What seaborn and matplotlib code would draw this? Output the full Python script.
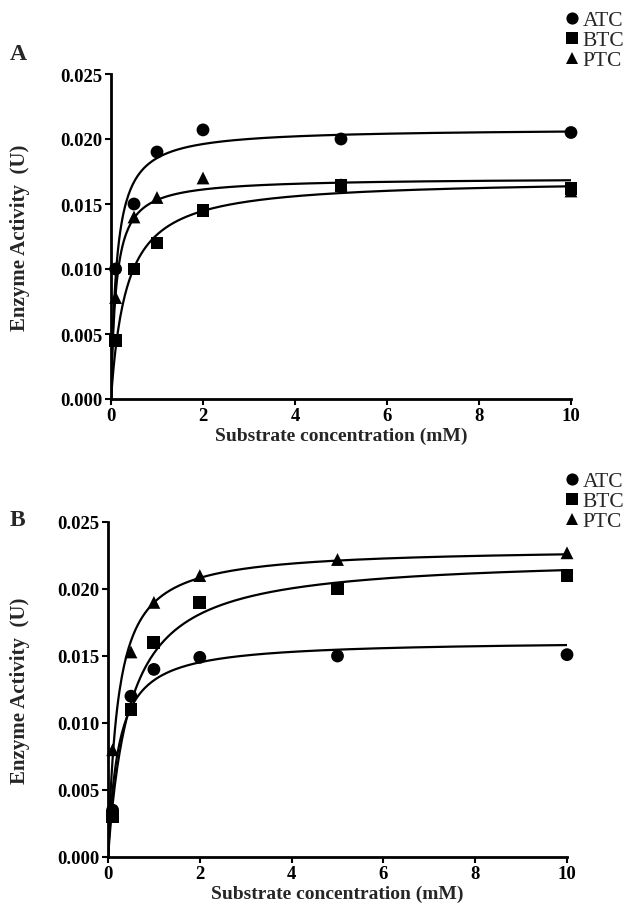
import numpy as np
import pandas as pd
import matplotlib
matplotlib.use("Agg")
import matplotlib.pyplot as plt
import seaborn as sns

sns.set_theme(style="ticks")
plt.rcParams["font.family"] = ["Liberation Serif", "DejaVu Serif"]

# ---- data ----
conc = [0.1, 0.5, 1, 2, 5, 10]
substrates = ["ATC", "BTC", "PTC"]

a_atc = [0.0100, 0.0150, 0.0190, 0.0207, 0.0200, 0.0205]
a_btc = [0.0045, 0.0100, 0.0120, 0.0145, 0.0164, 0.0162]
a_ptc = [0.0078, 0.0140, 0.0155, 0.0170, 0.0165, 0.0160]

b_atc = [0.0035, 0.0120, 0.0140, 0.0149, 0.0150, 0.0151]
b_btc = [0.0030, 0.0110, 0.0160, 0.0190, 0.0200, 0.0210]
b_ptc = [0.0080, 0.0153, 0.0190, 0.0210, 0.0222, 0.0227]

x_ticks = [0, 2, 4, 6, 8, 10]
y_ticks = [0.000, 0.005, 0.010, 0.015, 0.020, 0.025]
panel_labels = ["A", "B"]


def mm_fit(x, y):
    """Least-squares Michaelis-Menten fit (Vmax closed form, Km by grid)."""
    x = np.asarray(x, float)
    y = np.asarray(y, float)
    best = None
    for km in np.linspace(0.005, 3.0, 6000):
        f = x / (km + x)
        vmax = (y * f).sum() / (f * f).sum()
        sse = ((y - vmax * f) ** 2).sum()
        if best is None or sse < best[0]:
            best = (sse, vmax, km)
    return best[1], best[2]


def build(series):
    pts, curves = [], []
    xs = np.linspace(0, 10, 400)
    for name, vals in zip(substrates, series):
        vmax, km = mm_fit(conc, vals)
        pts.append(pd.DataFrame({"x": conc, "y": vals, "Substrate": name}))
        curves.append(pd.DataFrame({"x": xs, "y": vmax * xs / (km + xs), "Substrate": name}))
    return pd.concat(pts), pd.concat(curves)


panels = [build([a_atc, a_btc, a_ptc]), build([b_atc, b_btc, b_ptc])]

fig = plt.figure(figsize=(6.3, 9.12), dpi=100)
axes_pos = [
    [111 / 630, 1 - 400 / 912, 460 / 630, 325 / 912],
    [108 / 630, 1 - 858 / 912, 459 / 630, 335 / 912],
]
legend_y = [1 - 11 / 912, 1 - 472 / 912]
label_y = [1 - 55 / 912, 1 - 520 / 912]
ylabel_x = [-0.176, -0.170]

markers = {"ATC": "o", "BTC": "s", "PTC": "^"}
for i, ((pts, curves), pos) in enumerate(zip(panels, axes_pos)):
    ax = fig.add_axes(pos)
    sns.lineplot(data=curves, x="x", y="y", units="Substrate", estimator=None,
                 color="black", linewidth=1.6, ax=ax, legend=False)
    sns.scatterplot(data=pts, x="x", y="y", style="Substrate", markers=markers,
                    color="black", s=85, edgecolor="black", linewidth=0,
                    ax=ax, clip_on=False, zorder=5)
    ax.set_xlim(0, 10)
    ax.set_ylim(0, 0.025)
    ax.set_xticks(x_ticks)
    ax.set_yticks(y_ticks)
    ax.set_xticklabels([str(t) for t in x_ticks], fontsize=13.5, fontweight="bold")
    ax.set_yticklabels([f"{t:.3f}" for t in y_ticks], fontsize=13.5, fontweight="bold")
    ax.set_xlabel("Substrate concentration (mM)", fontsize=14, fontweight="bold", labelpad=2)
    ax.set_ylabel("Enzyme Activity  (U)", fontsize=15, fontweight="bold")
    ax.yaxis.set_label_coords(ylabel_x[i], 0.5)
    sns.despine(ax=ax)
    for s in ("left", "bottom"):
        ax.spines[s].set_linewidth(2)
        ax.spines[s].set_color("black")
    ax.tick_params(axis="both", direction="out", length=4, width=1.5,
                   colors="black", pad=2)
    sns.move_legend(ax, "upper left", bbox_to_anchor=(563 / 630, legend_y[i]),
                    bbox_transform=fig.transFigure, title=None, frameon=False,
                    fontsize=15.5, handletextpad=0.1, handlelength=0.8,
                    labelspacing=0.0, borderpad=0, borderaxespad=0,
                    markerscale=0.95)
    fig.text(10 / 630, label_y[i], panel_labels[i], fontsize=17, fontweight="bold",
             va="center", ha="left")

fig.savefig("out.png", dpi=100)
